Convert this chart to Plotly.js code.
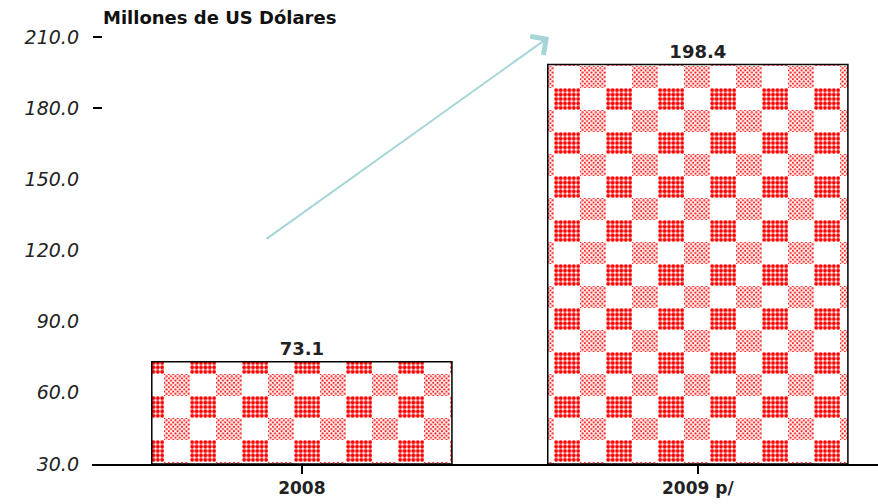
<!DOCTYPE html>
<html>
<head>
<meta charset="utf-8">
<script src="https://cdn.plot.ly/plotly-3.0.1.min.js"></script>
<style>html,body{margin:0;padding:0;background:#fff;}#chart{width:878px;height:504px;}</style>
</head>
<body>
<div id="chart"></div>
<script>
const categories = ['2008', '2009 p/'];
const values = [73.1, 198.4];
const axisFloor = 30;
const yTickVals = [30, 60, 90, 120, 150, 180, 210];
const yTickText = ['30.0', '60.0', '90.0', '120.0', '150.0', '180.0', '210.0'];
const yDashVals = [180, 210];
const unitTitle = 'Millones de US Dólares';

const FONT = 'DejaVu Sans, Arial, sans-serif';

// bars start at the axis floor (30) and reach the value
const trace = {
  type: 'bar',
  x: categories,
  base: axisFloor,
  y: values.map(v => v - axisFloor),
  customdata: values,
  width: 0.758,
  marker: { color: '#ff0000', line: { color: '#000', width: 1.5 } },
  texttemplate: '%{customdata:.1f}',
  textposition: 'outside',
  textfont: { family: FONT, size: 18, weight: 'bold', color: '#222' },
  cliponaxis: false,
  hoverinfo: 'skip'
};

const dashTrace = {
  type: 'scatter', x: [], y: [], yaxis: 'y2', hoverinfo: 'skip', showlegend: false
};

const layout = {
  width: 878, height: 504,
  margin: { l: 92, r: 0, t: 37, b: 40 },
  paper_bgcolor: '#fff', plot_bgcolor: 'rgba(0,0,0,0)',
  showlegend: false,
  bargap: 0,
  title: {
    text: '<b>' + unitTitle + '</b>',
    font: { family: FONT, size: 18, color: '#111' },
    xref: 'container', yref: 'container',
    x: 103 / 878, xanchor: 'left',
    y: 1 - 18 / 504, yanchor: 'middle'
  },
  xaxis: {
    type: 'category',
    range: [-0.53, 1.455],
    showline: true, linecolor: '#000', linewidth: 2,
    ticks: 'outside', ticklen: 8, tickwidth: 1.5, tickcolor: '#000',
    tickfont: { family: FONT, size: 17, weight: 'bold', color: '#222' },
    showgrid: false, zeroline: false, fixedrange: true
  },
  yaxis: {
    range: [30, 210],
    tickvals: yTickVals,
    ticktext: yTickText,
    ticks: '', ticklabelstandoff: 12,
    tickfont: { family: FONT, size: 19, style: 'italic', color: '#222' },
    showgrid: false, zeroline: false, showline: false, fixedrange: true
  },
  yaxis2: {
    overlaying: 'y', side: 'left', anchor: 'free', position: 10 / 786,
    range: [30, 210],
    tickvals: yDashVals,
    ticks: 'outside', ticklen: 9, tickwidth: 1.5, tickcolor: '#000',
    showticklabels: false, showgrid: false, zeroline: false, showline: false, fixedrange: true
  },
  annotations: [{
    xref: 'paper', yref: 'paper',
    x: (549 - 92) / 786, y: 1.0,
    axref: 'pixel', ayref: 'pixel',
    ax: -284, ay: 203,
    text: '',
    showarrow: true,
    arrowcolor: '#a6d5d8', arrowwidth: 2, arrowhead: 4, arrowsize: 2.2
  }]
};

Plotly.newPlot('chart', [trace, dashTrace], layout, { displayModeBar: false, staticPlot: true }).then(gd => {
  const svg = gd.querySelector('svg.main-svg');
  const ns = 'http://www.w3.org/2000/svg';
  const sz = gd._fullLayout._size;
  let defs = svg.querySelector('defs');
  if (!defs) { defs = document.createElementNS(ns, 'defs'); svg.insertBefore(defs, svg.firstChild); }
  defs.insertAdjacentHTML('beforeend',
    '<pattern id="denseDots" patternUnits="userSpaceOnUse" width="4.4" height="4.4">' +
      '<rect width="4.4" height="4.4" fill="#fff"/>' +
      '<circle cx="2.2" cy="2.2" r="1.95" fill="#ff0000"/>' +
    '</pattern>' +
    '<pattern id="crossDots" patternUnits="userSpaceOnUse" width="4.4" height="4.4">' +
      '<rect width="4.4" height="4.4" fill="#fff"/>' +
      '<circle cx="0" cy="0" r="1.1" fill="#ff2020"/>' +
      '<circle cx="4.4" cy="0" r="1.1" fill="#ff2020"/>' +
      '<circle cx="0" cy="4.4" r="1.1" fill="#ff2020"/>' +
      '<circle cx="4.4" cy="4.4" r="1.1" fill="#ff2020"/>' +
      '<circle cx="2.2" cy="2.2" r="1.1" fill="#ff2020"/>' +
    '</pattern>' +
    '<pattern id="checker" patternUnits="userSpaceOnUse" width="52" height="44" x="' + (34 - sz.l) + '" y="' + (0 - sz.t) + '">' +
      '<rect width="52" height="44" fill="#fff"/>' +
      '<rect x="0" y="0" width="26" height="22" fill="url(#denseDots)"/>' +
      '<rect x="26" y="22" width="26" height="22" fill="url(#crossDots)"/>' +
    '</pattern>');
  gd.querySelectorAll('.barlayer .point path').forEach(p => { p.style.fill = 'url(#checker)'; });
});
</script>
</body>
</html>
